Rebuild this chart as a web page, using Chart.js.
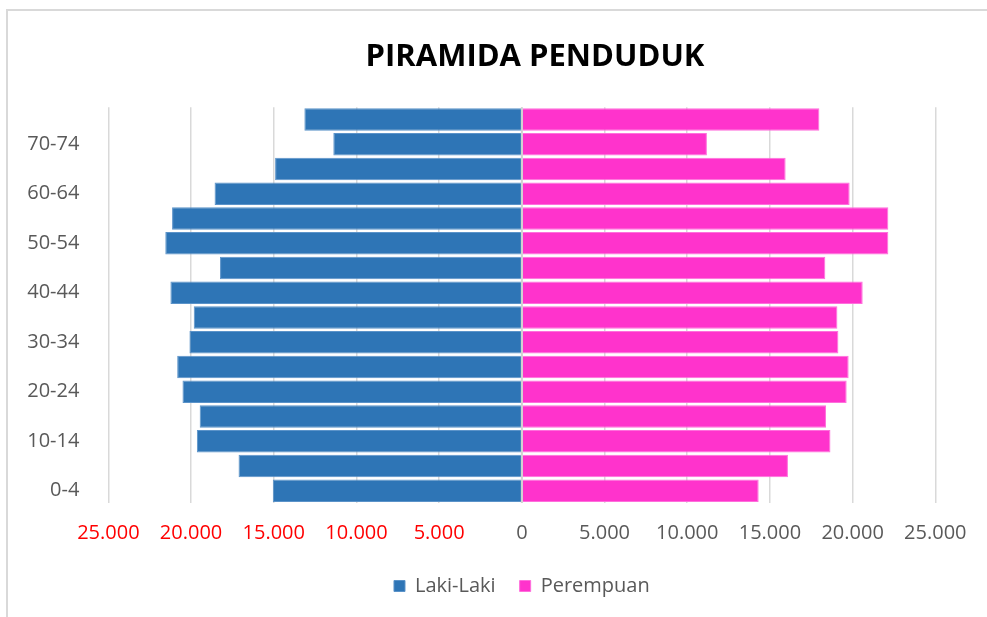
<!DOCTYPE html>
<html>
<head>
<meta charset="utf-8">
<script src="https://cdn.jsdelivr.net/npm/chart.js@4/dist/chart.umd.min.js"></script>
<style>
  html, body { margin: 0; padding: 0; width: 987px; height: 617px; overflow: hidden; background: #ffffff; }
  #frame { position: absolute; left: 6px; top: 9px; width: 2000px; height: 2000px;
           border-left: 2px solid #d9d9d9; border-top: 2px solid #d9d9d9; }
  #wrap { position: absolute; left: 0; top: 0; }
</style>
</head>
<body>
<div id="frame"></div>
<div id="wrap"><canvas id="c" width="1070" height="617"></canvas></div>
<script>
// ---- data ----
const categories = ['0-4','5-9','10-14','15-19','20-24','25-29','30-34','35-39',
                    '40-44','45-49','50-54','55-59','60-64','65-69','70-74','75+'];
const lakiLaki  = [15060, 17130, 19650, 19480, 20520, 20840, 20100, 19840,
                   21250, 18250, 21560, 21150, 18580, 14920, 11400, 13150];
const perempuan = [14320, 16090, 18660, 18390, 19640, 19760, 19140, 19080,
                   20610, 18350, 22160, 22160, 19820, 15950, 11190, 17990];
const seriesNames = ['Laki-Laki', 'Perempuan'];
const titleText = 'PIRAMIDA PENDUDUK';
const axisMin = -25000, axisMax = 25000, axisStep = 5000;

const fmt = v => String(Math.abs(v)).replace(/\B(?=(\d{3})+(?!\d))/g, '.');

const zeroLine = {
  id: 'zeroLine',
  afterDatasetsDraw(chart) {
    const x = chart.scales.x.getPixelForValue(0);
    const a = chart.chartArea;
    const ctx = chart.ctx;
    ctx.save();
    ctx.strokeStyle = '#d0d0d0';
    ctx.lineWidth = 2;
    ctx.beginPath();
    ctx.moveTo(x, a.top);
    ctx.lineTo(x, a.bottom);
    ctx.stroke();
    ctx.restore();
  }
};

new Chart(document.getElementById('c'), {
  type: 'bar',
  data: {
    labels: categories,
    datasets: [
      { label: seriesNames[0], data: lakiLaki.map(v => -v),
        backgroundColor: '#2E75B6', borderColor: '#5b93c9', borderWidth: 1,
        barPercentage: 0.91, categoryPercentage: 1.0 },
      { label: seriesNames[1], data: perempuan,
        backgroundColor: '#FF33CC', borderColor: '#ff6fdc', borderWidth: 1,
        barPercentage: 0.91, categoryPercentage: 1.0 }
    ]
  },
  options: {
    indexAxis: 'y',
    responsive: false,
    animation: false,
    layout: { padding: { left: 0, right: 0, top: 0, bottom: 11 } },
    plugins: {
      title: {
        display: true, text: titleText, color: '#000000',
        font: { family: 'Open Sans', size: 31, weight: 'bold' },
        padding: { top: 39, bottom: 31 }
      },
      legend: {
        position: 'bottom', fullSize: false,
        labels: {
          color: '#595959', font: { family: 'Open Sans', size: 20 },
          boxWidth: 11, boxHeight: 11, padding: 24
        }
      },
      tooltip: { enabled: false }
    },
    scales: {
      x: {
        stacked: true, min: axisMin, max: axisMax,
        grid: { color: '#d9d9d9', lineWidth: 1.5, drawTicks: false },
        border: { display: false },
        ticks: {
          stepSize: axisStep, padding: 18,
          font: { family: 'Open Sans', size: 20 },
          color: c => (c.tick && c.tick.value < 0) ? '#FF0000' : '#595959',
          callback: v => fmt(v)
        },
        afterFit: s => { s.height = 49; }
      },
      y: {
        stacked: true, reverse: true,
        grid: { display: false },
        border: { display: false },
        ticks: {
          autoSkip: false, padding: 21,
          font: { family: 'Open Sans', size: 20 }, color: '#595959',
          callback: function (v, i) { return i % 2 === 0 ? this.getLabelForValue(v) : ''; }
        },
        afterFit: s => { s.width = 108.4; }
      },
      yRight: {
        type: 'category', position: 'right', display: true,
        grid: { display: false }, border: { display: false },
        ticks: { display: false },
        afterFit: s => { s.width = 1070 - 935.3; }
      }
    }
  },
  plugins: [zeroLine]
});
</script>
</body>
</html>
